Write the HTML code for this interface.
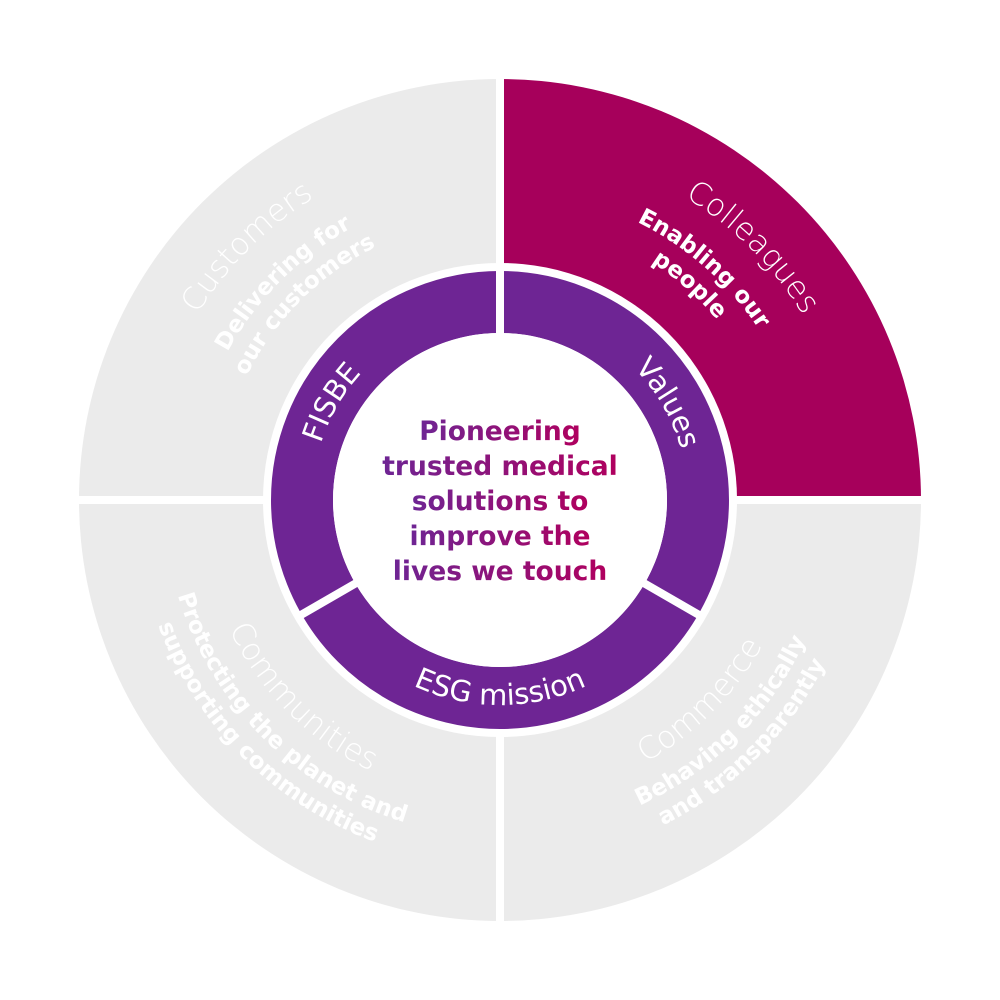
<!DOCTYPE html>
<html><head><meta charset="utf-8"><style>
html,body{margin:0;padding:0;background:#fff}
svg{display:block}
text{font-family:"DejaVu Sans","Liberation Sans",sans-serif}
</style></head><body>
<svg width="1000" height="1000" viewBox="0 0 1000 1000" xmlns="http://www.w3.org/2000/svg">
<defs>
<linearGradient id="g" x1="0" x2="1" y1="0" y2="0">
<stop offset="0" stop-color="#6E2594"/><stop offset="1" stop-color="#B0005E"/>
</linearGradient>
<path id="tl355" d="M145,500 A355,355 0 0 1 500,145"/>
<path id="tl310" d="M190,500 A310,310 0 0 1 500,190"/>
<path id="tl282" d="M218,500 A282,282 0 0 1 500,218"/>
<path id="tr355" d="M500,145 A355,355 0 0 1 855,500"/>
<path id="tr310" d="M500,190 A310,310 0 0 1 810,500"/>
<path id="tr282" d="M500,218 A282,282 0 0 1 782,500"/>
<path id="bl300" d="M200,500 A300,300 0 0 0 500,800"/>
<path id="bl336" d="M164,500 A336,336 0 0 0 500,836"/>
<path id="bl364" d="M136,500 A364,364 0 0 0 500,864"/>
<path id="br300" d="M500,800 A300,300 0 0 0 800,500"/>
<path id="br336" d="M500,836 A336,336 0 0 0 836,500"/>
<path id="br364" d="M500,864 A364,364 0 0 0 864,500"/>
<path id="fis" d="M337.4,593.9 A188,188 0 0 1 500,312"/>
<path id="val" d="M500,312 A188,188 0 0 1 662.8,594"/>
<path id="esgb" d="M322.5,602.5 A205,205 0 0 0 677.5,602.5"/>
</defs>
<path d="M500,500 L79,500 A421,421 0 0 1 500,79 Z" fill="#EBEBEB"/>
<path d="M500,500 L500,79 A421,421 0 0 1 921,500 Z" fill="#A6005B"/>
<path d="M500,500 L921,500 A421,421 0 0 1 500,921 Z" fill="#EBEBEB"/>
<path d="M500,500 L500,921 A421,421 0 0 1 79,500 Z" fill="#EBEBEB"/>
<line x1="500" y1="70" x2="500" y2="930" stroke="#fff" stroke-width="8"/>
<line x1="70" y1="500" x2="930" y2="500" stroke="#fff" stroke-width="8"/>
<circle cx="500" cy="500" r="237" fill="#fff"/>
<circle cx="500" cy="500" r="198" fill="none" stroke="#6E2594" stroke-width="62"/>
<line x1="500" y1="500" x2="500" y2="266" stroke="#fff" stroke-width="8"/>
<line x1="500" y1="500" x2="702.6" y2="617" stroke="#fff" stroke-width="8"/>
<line x1="500" y1="500" x2="297.4" y2="617" stroke="#fff" stroke-width="8"/>
<circle cx="500" cy="500" r="167" fill="#fff"/>

<g fill="#fff">
<text font-size="31" font-weight="300"><textPath href="#tl355" startOffset="50%" text-anchor="middle">Customers</textPath></text>
<text font-size="23" font-weight="bold"><textPath href="#tl310" startOffset="50%" text-anchor="middle">Delivering for</textPath></text>
<text font-size="23" font-weight="bold"><textPath href="#tl282" startOffset="50%" text-anchor="middle">our customers</textPath></text>
<text font-size="31" font-weight="300"><textPath href="#tr355" startOffset="50%" text-anchor="middle">Colleagues</textPath></text>
<text font-size="23" font-weight="bold"><textPath href="#tr310" startOffset="46%" text-anchor="middle">Enabling our</textPath></text>
<text font-size="23" font-weight="bold"><textPath href="#tr282" startOffset="46%" text-anchor="middle">people</textPath></text>
<text font-size="31" font-weight="300"><textPath href="#bl300" startOffset="50%" text-anchor="middle">Communities</textPath></text>
<text font-size="23" font-weight="bold"><textPath href="#bl336" startOffset="50%" text-anchor="middle">Protecting the planet and</textPath></text>
<text font-size="23" font-weight="bold"><textPath href="#bl364" startOffset="50%" text-anchor="middle">supporting communities</textPath></text>
<text font-size="31" font-weight="300"><textPath href="#br300" startOffset="50%" text-anchor="middle">Commerce</textPath></text>
<text font-size="23" font-weight="bold"><textPath href="#br336" startOffset="50%" text-anchor="middle">Behaving ethically</textPath></text>
<text font-size="23" font-weight="bold"><textPath href="#br364" startOffset="50%" text-anchor="middle">and transparently</textPath></text>
<text font-size="29"><textPath href="#fis" startOffset="50%" text-anchor="middle">FISBE</textPath></text>
<text font-size="29"><textPath href="#val" startOffset="50%" text-anchor="middle">Values</textPath></text>
<text font-size="29"><textPath href="#esgb" startOffset="50%" text-anchor="middle">ESG mission</textPath></text>
</g>
<g fill="url(#g)" font-size="26.5" font-weight="bold" text-anchor="middle">
<text x="500" y="440">Pioneering</text>
<text x="500" y="475">trusted medical</text>
<text x="500" y="510">solutions to</text>
<text x="500" y="545">improve the</text>
<text x="500" y="580">lives we touch</text>
</g>
</svg>
</body></html>
